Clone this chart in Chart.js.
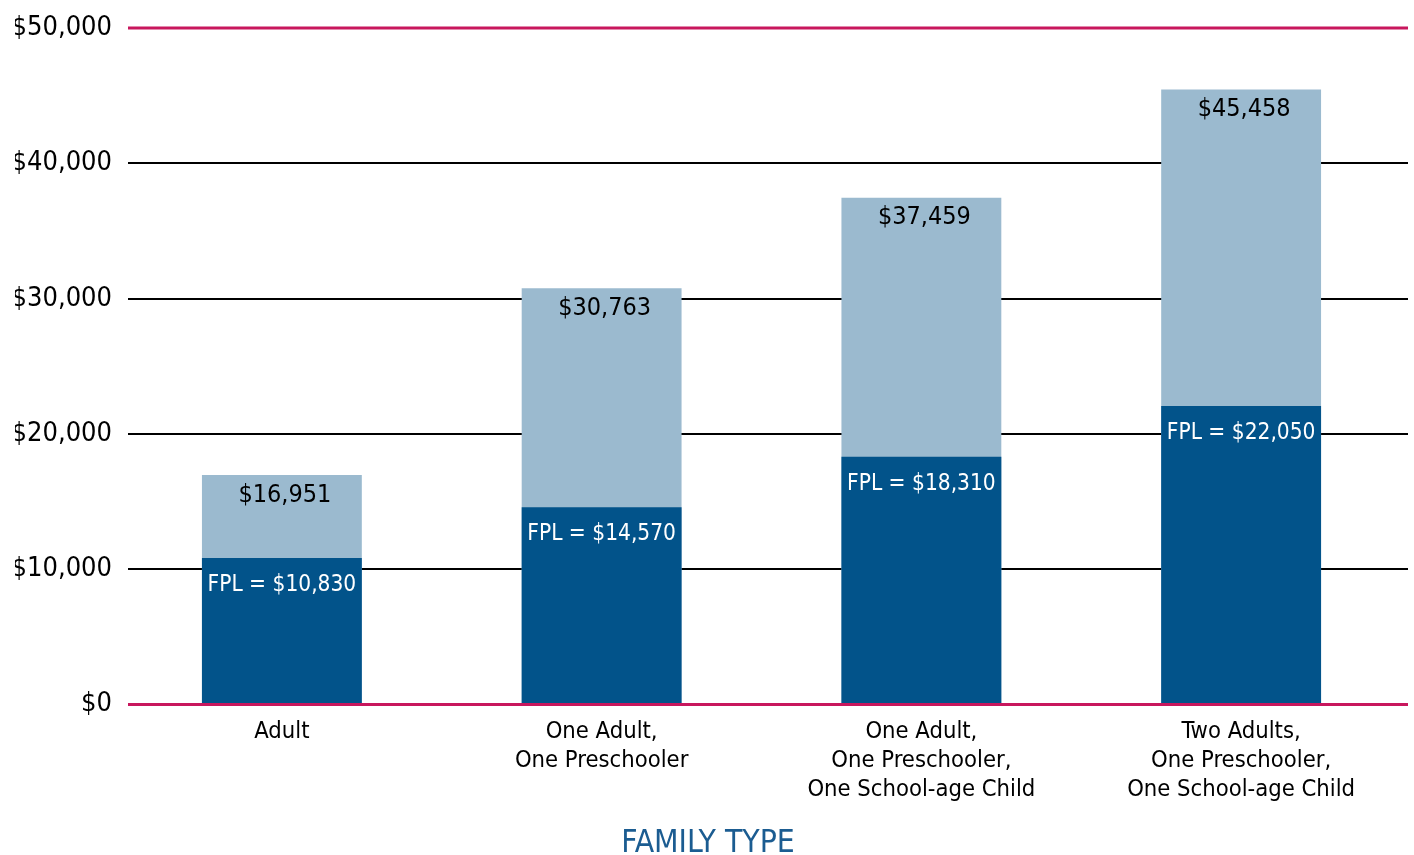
<!DOCTYPE html>
<html>
<head>
<meta charset="utf-8">
<script src="https://cdn.jsdelivr.net/npm/chart.js@4/dist/chart.umd.min.js"></script>
<style>
html,body{margin:0;padding:0;background:#fff;}
#wrap{width:1414px;height:855px;position:relative;}
</style>
</head>
<body>
<div id="wrap"><canvas id="c" width="1414" height="855"></canvas></div>
<script>
const categories = [
  ['Adult'],
  ['One Adult,', 'One Preschooler'],
  ['One Adult,', 'One Preschooler,', 'One School-age Child'],
  ['Two Adults,', 'One Preschooler,', 'One School-age Child']
];
const fplValues = [10830, 14570, 18310, 22050];
const totalValues = [16951, 30763, 37459, 45458];
const yTicks = [0, 10000, 20000, 30000, 40000, 50000];
const axisTitle = 'FAMILY TYPE';

const DARK = '#02538A';
const LIGHT = '#9BBACF';
const PINK = '#C8175D';
const FONT = "'DejaVu Sans Condensed', 'DejaVu Sans', sans-serif";

function money(v){ return '$' + v.toLocaleString('en-US'); }

const gridPlugin = {
  id: 'customGrid',
  beforeDatasetsDraw(chart){
    const y = chart.scales.y, ctx = chart.ctx;
    ctx.save();
    yTicks.forEach(v => {
      if (v === 0 || v === 50000) return;
      const py = Math.round(y.getPixelForValue(v));
      ctx.strokeStyle = '#000'; ctx.lineWidth = 2;
      ctx.beginPath(); ctx.moveTo(128, py); ctx.lineTo(1408, py); ctx.stroke();
    });
    ctx.restore();
  },
  afterDatasetsDraw(chart){
    const y = chart.scales.y, ctx = chart.ctx;
    ctx.save();
    [0, 50000].forEach(v => {
      const py = y.getPixelForValue(v);
      ctx.strokeStyle = PINK; ctx.lineWidth = 3;
      ctx.beginPath(); ctx.moveTo(128, py); ctx.lineTo(1408, py); ctx.stroke();
    });
    const fplMeta = chart.getDatasetMeta(0);
    const totMeta = chart.getDatasetMeta(1);
    ctx.textAlign = 'center';
    ctx.textBaseline = 'middle';
    totMeta.data.forEach((bar, i) => {
      ctx.fillStyle = '#000';
      ctx.font = '25px ' + FONT;
      ctx.fillText(money(totalValues[i]), bar.x + 3, bar.y + 20);
    });
    fplMeta.data.forEach((bar, i) => {
      ctx.fillStyle = '#fff';
      ctx.font = '22.5px ' + FONT;
      ctx.fillText('FPL = ' + money(fplValues[i]), bar.x, bar.y + 27);
    });
    ctx.restore();
  }
};

new Chart(document.getElementById('c'), {
  type: 'bar',
  data: {
    labels: categories,
    datasets: [
      { label: 'FPL', data: fplValues, backgroundColor: DARK, borderWidth: 0 },
      { label: 'Total', data: totalValues, backgroundColor: LIGHT, borderWidth: 0 }
    ]
  },
  options: {
    responsive: false,
    animation: false,
    grouped: false,
    categoryPercentage: 1.0,
    barPercentage: 0.5,
    layout: { padding: { top: 28, right: 13, left: 15, bottom: 0 } },
    plugins: {
      legend: { display: false },
      tooltip: { enabled: false },
      title: {
        display: true,
        position: 'bottom',
        text: axisTitle,
        color: '#1B5C91',
        font: { family: FONT, size: 31.6, weight: 'normal', lineHeight: 1 },
        padding: { top: 8, bottom: -5 }
      }
    },
    scales: {
      x: {
        grid: { display: false, drawTicks: false },
        border: { display: false },
        ticks: {
          color: '#000',
          font: { family: FONT, size: 23.6, lineHeight: 1.22 },
          padding: 13,
          maxRotation: 0,
          autoSkip: false
        },
        afterFit(scale){ scale.height = 116; }
      },
      y: {
        min: 0, max: 50000,
        grid: { display: false, drawTicks: false },
        border: { display: false },
        afterBuildTicks(scale){ scale.ticks = yTicks.map(v => ({ value: v })); },
        ticks: {
          color: '#000',
          font: { family: FONT, size: 27 },
          padding: 10,
          callback: v => money(v)
        },
        afterFit(scale){ scale.width = 107; }
      }
    }
  },
  plugins: [gridPlugin]
});
</script>
</body>
</html>
